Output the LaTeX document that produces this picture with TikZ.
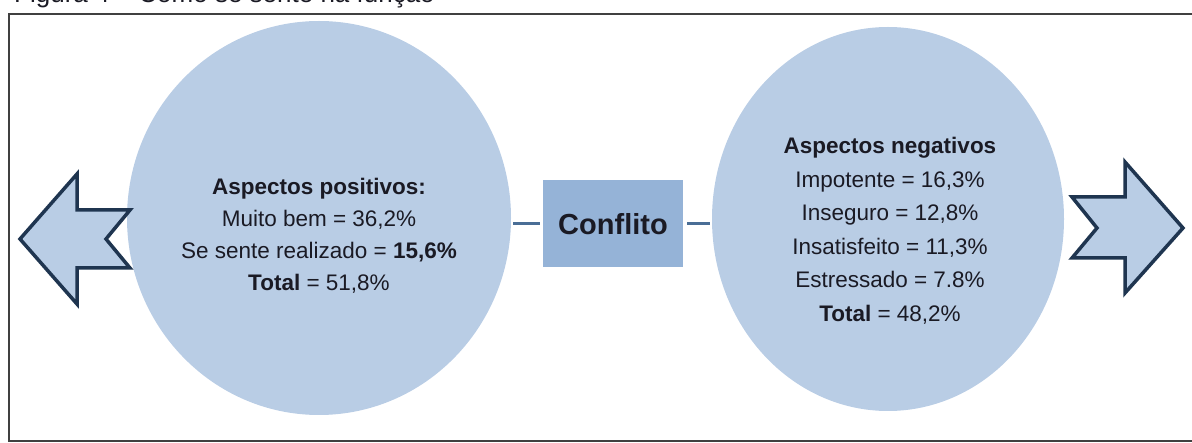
\documentclass[tikz,border=0pt]{standalone}
\usepackage{fontspec}
\setmainfont{Liberation Sans}
\usetikzlibrary{shapes.geometric}
\definecolor{circfill}{HTML}{B9CDE5}
\definecolor{boxfill}{HTML}{95B3D7}
\definecolor{conncol}{HTML}{4A6E96}
\definecolor{arrowline}{HTML}{1F3550}
\definecolor{txt}{HTML}{1A1A24}
\definecolor{framecol}{HTML}{404040}
\tikzset{
  bubble/.style={ellipse, fill=circfill, draw=none, inner sep=0pt},
  bubbletext/.style={align=center, text=txt, font=\fontsize{22.5}{32}\selectfont, inner sep=0pt},
  conflbox/.style={rectangle, fill=boxfill, draw=none, minimum width=140pt, minimum height=87pt, inner sep=0pt, text=txt, font=\bfseries\fontsize{29}{34}\selectfont},
  conn/.style={draw=conncol, line width=3pt},
  bigarrow/.style={fill=circfill, draw=arrowline, line width=3.5pt, line join=miter},
}
\begin{document}
\begin{tikzpicture}[x=1pt,y=-1pt]
\useasboundingbox (0,0) rectangle (1192,443);
\clip (0,0) rectangle (1192,443);
% title (clipped at top, as in the reference)
\node[anchor=base west, inner sep=0pt, text=txt, font=\fontsize{26}{30}\selectfont] (title) at (14,3) {Figura 4 -- Como se sente na função};
% frame
\draw[framecol, line width=2pt] (1200,14) -- (9,14) -- (9,441) -- (1200,441);
% bubbles
\node[bubble, minimum width=384pt, minimum height=394pt] (lc) at (319,218) {};
\node[bubble, minimum width=352pt, minimum height=384pt] (rc) at (888,219) {};
% texts
\node[bubbletext] (lt) at (319,236) {\textbf{Aspectos positivos:}\\Muito bem = 36,2\%\\Se sente realizado = \textbf{15,6\%}\\\textbf{Total} = 51,8\%};
\node[bubbletext, font=\fontsize{22.5}{33.5}\selectfont] (rt) at (890,231) {\textbf{Aspectos negativos}\\Impotente = 16,3\%\\Inseguro = 12,8\%\\Insatisfeito = 11,3\%\\Estressado = 7.8\%\\\textbf{Total} = 48,2\%};
% central box
\node[conflbox] (box) at (613,224) {Conflito};
% connectors
\draw[conn, shorten <=2pt, shorten >=3pt] (box.west -| lc.east) -- (box.west);
\draw[conn, shorten <=4pt, shorten >=2pt] (box.east) -- (box.east -| rc.west);
% arrows
\draw[bigarrow] (20,239) -- (77,174) -- (77,210) -- (130,210) -- (106,239) -- (130,268) -- (77,268) -- (77,304) -- cycle;
\draw[bigarrow] (1183,228) -- (1125,162) -- (1125,197) -- (1072,197) -- (1097,228) -- (1072,258) -- (1125,258) -- (1125,293) -- cycle;
\end{tikzpicture}
\end{document}
